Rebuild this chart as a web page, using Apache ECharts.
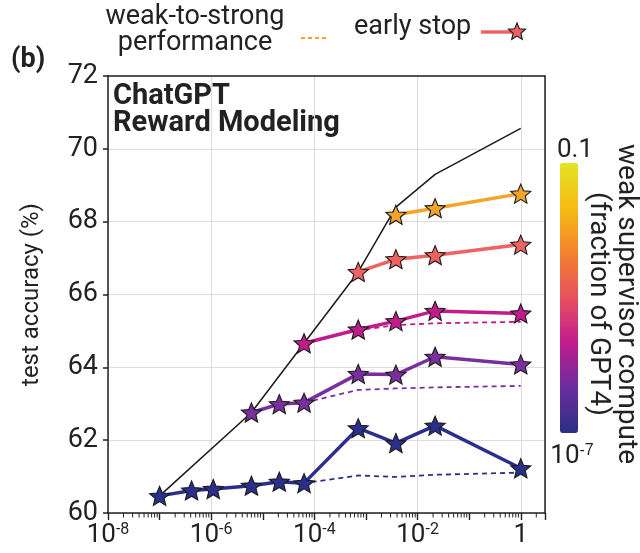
<!DOCTYPE html>
<html>
<head>
<meta charset="utf-8">
<script src="https://cdn.jsdelivr.net/npm/echarts@6/dist/echarts.min.js"></script>
<style>
  html, body { margin: 0; padding: 0; background: #fff; }
  #chart { width: 640px; height: 553px; }
</style>
</head>
<body>
<div id="chart"></div>
<script>
// x positions: log10 of strong student compute (fraction of GPT4)
const xExp = [-7.0, -6.38, -5.96, -5.22, -4.68, -4.2, -3.15, -2.42, -1.66, 0]

// early stop (solid + stars), each series starts at its weak supervisor's column
const blueStars = [60.47, 60.62, 60.66, 60.75, 60.86, 60.82, 62.33, 61.92, 62.40, 61.23]
const purpleStars = [62.76, 62.99, 63.03, 63.82, 63.80, 64.29, 64.08]
const magentaStars = [64.66, 65.04, 65.27, 65.55, 65.48]
const salmonStars = [66.62, 66.97, 67.08, 67.37]
const orangeStars = [68.19, 68.37, 68.77]

// weak-to-strong performance (dashed)
const blueW2S = [60.47, 60.62, 60.66, 60.75, 60.86, 60.82, 61.03, 60.99, 61.05, 61.11]
const purpleW2S = [62.76, 62.99, 63.03, 63.38, 63.42, 63.45, 63.49]
const magentaW2S = [64.66, 65.02, 65.16, 65.21, 65.25]
const salmonW2S = [66.62, 66.95, 67.07, 67.40]
const orangeW2S = [68.19, 68.37, 68.77]

// strong ceiling (black)
const ceilX = [-7.0, -5.22, -4.2, -3.15, -2.42, -1.66, 0]
const ceilY = [60.47, 62.76, 64.66, 66.62, 68.4, 69.3, 70.56]

const yTicks = [60, 62, 64, 66, 68, 70, 72]

const colors = ['#2b2f8c', '#7a2f9c', '#c21b8c', '#ee6262', '#f4a42a']
const plasma = ['#2a2f84', '#6a2e9e', '#c01c8e', '#e8505e', '#f2822e', '#f6bd12', '#e2e424']

// star marker
function starPoints (cx, cy, R) {
  const pts = []
  for (let i = 0; i < 10; i++) {
    const r = i % 2 ? 0.45 * R : R
    const a = -Math.PI / 2 + i * Math.PI / 5
    pts.push([cx + r * Math.cos(a), cy + r * Math.sin(a)])
  }
  return pts
}
const STAR = 'path://M' + starPoints(50, 50, 50).map(p => p[0].toFixed(2) + ' ' + p[1].toFixed(2)).join(' L') + ' Z'

function pairs (ys) {
  const off = xExp.length - ys.length
  return ys.map((y, i) => [xExp[off + i], y])
}

const starSets = [blueStars, purpleStars, magentaStars, salmonStars, orangeStars]
const w2sSets = [blueW2S, purpleW2S, magentaW2S, salmonW2S, orangeW2S]

const series = []
w2sSets.forEach((ys, k) => {
  series.push({
    type: 'line',
    data: pairs(ys),
    symbol: 'none',
    z: 2,
    lineStyle: { color: colors[k], width: 1.8, type: [5, 4] }
  })
})
series.push({
  type: 'line',
  data: ceilX.map((x, i) => [x, ceilY[i]]),
  symbol: 'none',
  z: 3,
  lineStyle: { color: '#1a1a1a', width: 1.5 }
})
starSets.forEach((ys, k) => {
  series.push({
    type: 'line',
    data: pairs(ys),
    symbol: STAR,
    symbolSize: 20,
    symbolKeepAspect: true,
    z: 4,
    lineStyle: { color: colors[k], width: 3.5 },
    itemStyle: { color: colors[k], borderColor: '#1a1a1a', borderWidth: 1.1 }
  })
})

// log minor ticks on x axis
const minorTicks = []
for (let d = -8; d <= 0; d++) {
  for (let k = 2; k <= 9; k++) {
    const v = d + Math.log10(k)
    if (v < 0.45) minorTicks.push([v, 60])
  }
}
series.push({
  type: 'custom',
  data: minorTicks,
  clip: false,
  silent: true,
  renderItem: function (params, api) {
    const p = api.coord([api.value(0), api.value(1)])
    return {
      type: 'line',
      shape: { x1: p[0], y1: p[1], x2: p[0], y2: p[1] + 4.5 },
      style: { stroke: '#222', lineWidth: 1 }
    }
  }
})
// dummy series for the colour bar
series.push({ type: 'scatter', data: [] })
const dummyIndex = series.length - 1

const frameLine = { show: true, onZero: false, lineStyle: { color: '#222', width: 1.5 } }

const chartObj = echarts.init(document.getElementById('chart'))
const option = {
  backgroundColor: '#fff',
  animation: false,
  textStyle: { fontFamily: 'Roboto' },
  grid: { left: 108, right: 95, top: 76, bottom: 40 },
  xAxis: [
    {
      // bottom: labels every other decade, a tick every decade
      type: 'value',
      min: -8,
      max: 0.47,
      interval: 1,
      position: 'bottom',
      axisLine: frameLine,
      axisTick: { show: true, length: 7, lineStyle: { color: '#222', width: 1.4 } },
      splitLine: { show: false },
      axisLabel: {
        fontSize: 26,
        color: '#222',
        margin: 9,
        formatter: function (v) {
          if (!Number.isInteger(v) || v % 2 !== 0) return ''
          if (v === 0) return '1'
          return '10{s|' + v + '}'
        },
        rich: { s: { fontSize: 16, verticalAlign: 'top', padding: [0, 0, 10, 0] } }
      }
    },
    {
      // top: frame line and vertical grid every two decades
      type: 'value',
      min: -8,
      max: 0.47,
      interval: 2,
      position: 'top',
      axisLine: frameLine,
      axisTick: { show: false },
      axisLabel: { show: false },
      splitLine: { show: true, lineStyle: { color: '#dcdcdc', width: 1 } }
    }
  ],
  yAxis: [
    {
      type: 'value',
      min: 60,
      max: 72,
      interval: 2,
      name: 'test accuracy (%)',
      nameLocation: 'middle',
      nameGap: 64,
      nameTextStyle: { fontSize: 24, color: '#222' },
      axisLine: frameLine,
      axisTick: { show: true, length: 5, lineStyle: { color: '#222', width: 1.5 } },
      splitLine: { show: true, lineStyle: { color: '#dcdcdc', width: 1 } },
      axisLabel: {
        fontSize: 27,
        color: '#222',
        margin: 10,
        formatter: function (v) { return yTicks.indexOf(v) >= 0 ? String(v) : '' }
      }
    },
    {
      type: 'value',
      min: 60,
      max: 72,
      position: 'right',
      axisLine: frameLine,
      axisTick: { show: false },
      axisLabel: { show: false },
      splitLine: { show: false }
    }
  ],
  visualMap: {
    type: 'continuous',
    seriesIndex: dummyIndex,
    min: -7,
    max: -1,
    calculable: false,
    orient: 'vertical',
    left: 555,
    top: 158,
    padding: 5,
    itemWidth: 18,
    itemHeight: 270,
    showLabel: false,
    inRange: { color: plasma }
  },
  graphic: [
    {
      type: 'text', x: 11, y: 47,
      style: { text: '(b)', font: 'bold 27px Roboto', lineHeight: 27, fill: '#222', verticalAlign: 'top' }
    },
    {
      type: 'text', x: 113, y: 83,
      style: { text: 'ChatGPT\nReward Modeling', font: 'bold 29px Roboto', lineHeight: 27, fill: '#222', verticalAlign: 'top' }
    },
    // legend
    {
      type: 'text', x: 195, y: 4,
      style: { text: 'weak-to-strong\nperformance', font: '27px Roboto', lineHeight: 26, fill: '#222', align: 'center', verticalAlign: 'top' }
    },
    {
      type: 'line', shape: { x1: 301, y1: 38, x2: 328, y2: 38 },
      style: { stroke: colors[4], lineWidth: 1.8, lineDash: [4, 3] }
    },
    {
      type: 'text', x: 354, y: 14,
      style: { text: 'early stop', font: '27px Roboto', lineHeight: 26, fill: '#222', verticalAlign: 'top' }
    },
    {
      type: 'line', shape: { x1: 481, y1: 32, x2: 512, y2: 32 },
      style: { stroke: colors[3], lineWidth: 3.5 }
    },
    {
      type: 'polygon', z: 10,
      shape: { points: starPoints(517, 32, 9) },
      style: { fill: colors[3], stroke: '#1a1a1a', lineWidth: 1.1 }
    },
    // colour bar labels
    {
      type: 'text', x: 575, y: 150,
      style: { text: '0.1', font: '26px Roboto', fill: '#222', align: 'center', verticalAlign: 'middle' }
    },
    {
      type: 'text', x: 572, y: 456,
      style: {
        text: '10{s|-7}',
        font: '26px Roboto',
        fill: '#222',
        align: 'center',
        verticalAlign: 'middle',
        rich: { s: { fontSize: 16, verticalAlign: 'top', padding: [0, 0, 10, 0] } }
      }
    },
    {
      type: 'text', x: 612, y: 304, rotation: -Math.PI / 2,
      style: {
        text: 'weak supervisor compute\n(fraction of GPT4)',
        font: '28px Roboto',
        lineHeight: 28,
        fill: '#222',
        align: 'center',
        verticalAlign: 'middle'
      }
    }
  ],
  series: series
}
chartObj.setOption(option)
</script>
</body>
</html>
